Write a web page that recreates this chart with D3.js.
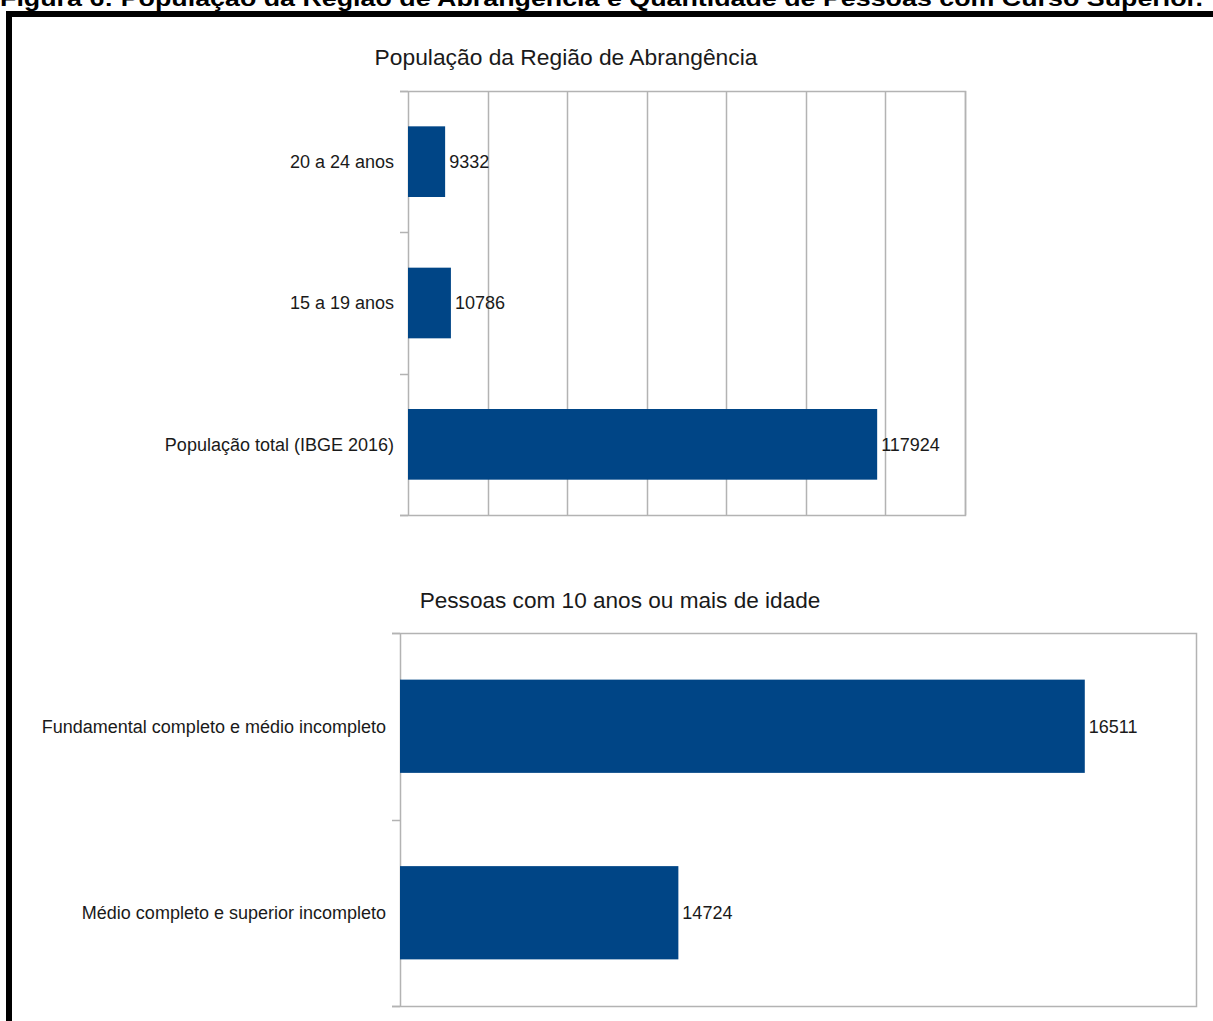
<!DOCTYPE html>
<html>
<head>
<meta charset="utf-8">
<script src="https://cdn.jsdelivr.net/npm/d3@7"></script>
<style>
body { margin:0; background:#fff; }
svg { display:block; font-family:"Liberation Sans", Arial, sans-serif; }
</style>
</head>
<body>
<script>
// DATA

var caption = "Figura 6: População da Região de Abrangência e Quantidade de Pessoas com Curso Superior.";

var pop_title = "População da Região de Abrangência";
var pop_categories = ["20 a 24 anos", "15 a 19 anos", "População total (IBGE 2016)"];
var pop_values = [9332, 10786, 117924];
var pop_domain = [0, 140000];
var pop_ticks = [0, 20000, 40000, 60000, 80000, 100000, 120000, 140000];

var edu_title = "Pessoas com 10 anos ou mais de idade";
var edu_categories = ["Fundamental completo e médio incompleto", "Médio completo e superior incompleto"];
var edu_values = [16511, 14724];
var edu_domain = [13500, 17000];

var bar_color = "#004586";
var grid_color = "#b3b3b3";

var width = 1213, height = 1021;

var svg = d3.select("body")
	.append("svg")
	.attr("width", width)
	.attr("height", height);

// caption at the very top (clipped in original)
svg.append("text")
	.attr("x", 0)
	.attr("y", 6)
	.attr("font-size", 22)
	.attr("font-weight", "bold")
	.attr("textLength", 1203)
	.attr("lengthAdjust", "spacingAndGlyphs")
	.text(caption);

// black frame
svg.append("path")
	.attr("d", "M9,1021 V14 H1213")
	.attr("fill", "none")
	.attr("stroke", "#000")
	.attr("stroke-width", 6);

// generic horizontal bar chart
var draw_chart = function(opt)
{
	var g = svg.append("g");
	var x = d3.scaleLinear().domain(opt.domain).range([opt.left, opt.right]);
	var y = d3.scaleBand().domain(opt.categories).range([opt.top, opt.bottom])
		.paddingInner(0.5).paddingOuter(0.25);

	// title
	g.append("text")
		.attr("x", opt.title_x)
		.attr("y", opt.title_y)
		.attr("text-anchor", "middle")
		.attr("font-size", opt.title_size)
		.attr("fill", "#1a1a1a")
		.text(opt.title);

	// vertical grid lines
	if (opt.ticks)
	{
		g.selectAll("line.grid")
			.data(opt.ticks.slice(1))
			.enter()
			.append("line")
			.attr("class", "grid")
			.attr("x1", function(d){return Math.round(x(d)) + 0.5})
			.attr("x2", function(d){return Math.round(x(d)) + 0.5})
			.attr("y1", opt.top)
			.attr("y2", opt.bottom)
			.attr("stroke", grid_color)
			.attr("stroke-width", 1.5);
	}

	// frame: top, right, bottom
	g.append("path")
		.attr("d", "M" + (opt.left - 8) + "," + (opt.top + 0.5) + " H" + (opt.right + 0.5) +
			" V" + (opt.bottom + 0.5) + " H" + (opt.left - 8))
		.attr("fill", "none")
		.attr("stroke", grid_color)
		.attr("stroke-width", 1.5);

	// left axis with ticks between categories
	var tick_y = [opt.top];
	for (var i = 1; i < opt.categories.length; i++)
	{
		tick_y.push(y(opt.categories[i]) - y.step() * y.paddingInner() / 2);
	}
	tick_y.push(opt.bottom);
	g.append("line")
		.attr("x1", opt.left + 0.5).attr("x2", opt.left + 0.5)
		.attr("y1", opt.top).attr("y2", opt.bottom)
		.attr("stroke", grid_color).attr("stroke-width", 1.5);
	g.selectAll("line.tick")
		.data(tick_y)
		.enter()
		.append("line")
		.attr("class", "tick")
		.attr("x1", opt.left - 8).attr("x2", opt.left)
		.attr("y1", function(d){return Math.round(d) + 0.5})
		.attr("y2", function(d){return Math.round(d) + 0.5})
		.attr("stroke", grid_color).attr("stroke-width", 1.5);

	// bars
	var data = opt.categories.map(function(c, i){return {"cat": c, "val": opt.values[i]}});
	g.selectAll("rect.bar")
		.data(data)
		.enter()
		.append("rect")
		.attr("class", "bar")
		.attr("x", opt.left)
		.attr("y", function(d){return y(d.cat)})
		.attr("width", function(d){return x(d.val) - opt.left})
		.attr("height", y.bandwidth())
		.attr("fill", bar_color);

	// value labels
	g.selectAll("text.val")
		.data(data)
		.enter()
		.append("text")
		.attr("class", "val")
		.attr("x", function(d){return x(d.val) + 4})
		.attr("y", function(d){return y(d.cat) + y.bandwidth() / 2})
		.attr("dy", "0.35em")
		.attr("font-size", 18)
		.attr("fill", "#1a1a1a")
		.text(function(d){return d.val});

	// category labels
	g.selectAll("text.cat")
		.data(data)
		.enter()
		.append("text")
		.attr("class", "cat")
		.attr("x", opt.left - 14)
		.attr("y", function(d){return y(d.cat) + y.bandwidth() / 2})
		.attr("dy", "0.35em")
		.attr("text-anchor", "end")
		.attr("font-size", 18)
		.attr("fill", "#1a1a1a")
		.text(function(d){return d.cat});
}

draw_chart({
	"title": pop_title, "categories": pop_categories, "values": pop_values,
	"domain": pop_domain, "ticks": pop_ticks,
	"left": 408, "right": 965, "top": 91, "bottom": 515,
	"title_x": 566, "title_y": 65, "title_size": 22.8
});

draw_chart({
	"title": edu_title, "categories": edu_categories, "values": edu_values,
	"domain": edu_domain, "ticks": null,
	"left": 400, "right": 1196, "top": 633, "bottom": 1006,
	"title_x": 620, "title_y": 608, "title_size": 22.6
});
</script>
</body>
</html>
